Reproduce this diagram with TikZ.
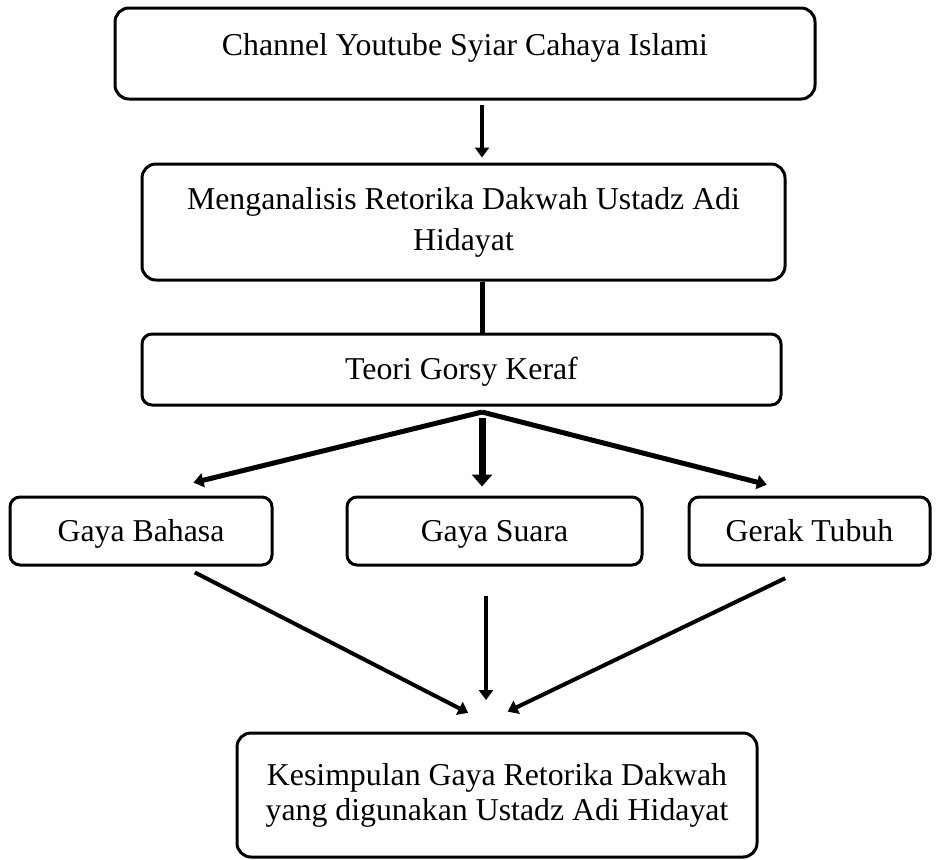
\documentclass[tikz,border=0pt]{standalone}
\usepackage{fontspec}
\setmainfont{Liberation Serif}
\usepackage{tikz}
\usetikzlibrary{arrows.meta}

\tikzset{
  box/.style={draw, line width=1.5pt, rounded corners=7pt, inner sep=0pt, align=center},
  onerow/.style={text height=12pt, text depth=2pt},
  link/.style={line width=2pt, -{Triangle[length=5pt,width=7pt]}}
}

\begin{document}
\begin{tikzpicture}[x=0.5pt, y=-0.5pt, font=\fontsize{15.9pt}{17.5pt}\selectfont]

% Page frame
\useasboundingbox (0,0) rectangle (941,859);

% Main column
\node[box, text height=12pt, text depth=10.5pt, minimum width=350pt, minimum height=45.5pt] (channel) at (465,53.5) {Channel Youtube Syiar Cahaya Islami};
\node[box, font=\fontsize{15.9pt}{20.5pt}\selectfont, minimum width=321.5pt, minimum height=58pt] (analisis) at (463.5,222) {Menganalisis Retorika Dakwah Ustadz Adi\\Hidayat};
\node[box, onerow, rounded corners=5pt, minimum width=319.5pt, minimum height=35.5pt] (teori) at (461.5,369.5) {Teori Gorsy Keraf};

% Three aspects
\node[box, onerow, rounded corners=5pt, minimum width=131pt, minimum height=34pt] (bahasa) at (141,531) {Gaya Bahasa};
\node[box, onerow, rounded corners=5pt, minimum width=147.5pt, minimum height=34pt] (suara) at (494.5,531) {Gaya Suara};
\node[box, onerow, rounded corners=5pt, minimum width=120.5pt, minimum height=34pt] (tubuh) at (809.5,531) {Gerak Tubuh};

% Conclusion
\node[box, minimum width=260pt, minimum height=62pt] (simpulan) at (497,795) {Kesimpulan Gaya Retorika Dakwah\\yang digunakan Ustadz Adi Hidayat};

% Branch and meeting points
\coordinate (hub) at (482,412);
\coordinate (meet) at (486,722);

% Connectors down the column
\draw[link, shorten <=2pt, shorten >=2.5pt] (channel.south -| hub) -- (analisis.north -| hub);
\draw[line width=2.5pt] (analisis.south -| hub) -- (teori.north -| hub);

% Split into the three aspects
\draw[line width=2.5pt, -{Triangle[length=5pt,width=7pt]}, shorten >=27pt] (hub) -- (bahasa.north);
\draw[line width=3.5pt, -{Triangle[length=6pt,width=10pt]}, shorten <=3pt, shorten >=4.5pt] (hub) -- (suara.north -| hub);
\draw[line width=2.5pt, -{Triangle[length=5pt,width=7pt]}, shorten >=22pt] (hub) -- (tubuh.north);

% Join towards the conclusion
\draw[link, shorten <=6.5pt, shorten >=10pt] (bahasa.-40) -- (meet);
\draw[link, shorten <=14.5pt, shorten >=11pt] (suara.south -| meet) -- (meet);
\draw[link, shorten <=13.5pt, shorten >=12pt] (tubuh.south) -- (meet);

\end{tikzpicture}
\end{document}
